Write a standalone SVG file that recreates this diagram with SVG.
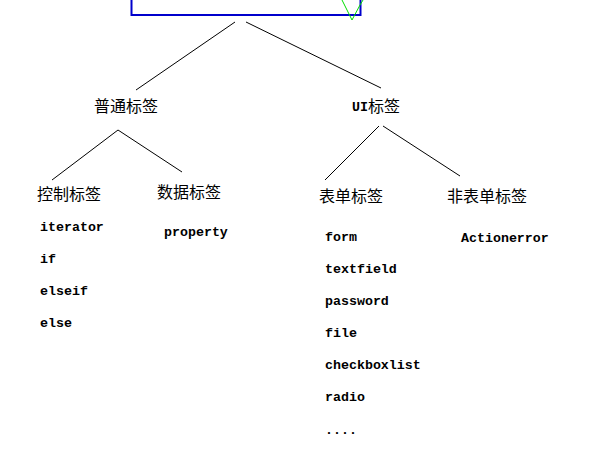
<svg xmlns="http://www.w3.org/2000/svg" width="615" height="463" viewBox="0 0 615 463">
<style>
.c{font-family:"Noto Sans CJK SC",sans-serif;font-size:16px;fill:#000}
.m{font-family:"Liberation Mono","Noto Sans CJK SC",monospace;font-size:13.3px;font-weight:bold;fill:#000}
line{stroke:#000;stroke-width:1}
</style>
<rect width="615" height="463" fill="#fff"/>
<g id="top"><rect x="131.5" y="-5" width="229" height="20" fill="none" stroke="#0000cc" stroke-width="2"/>
<polyline points="342,0 352,20 360,5 363,0" fill="none" stroke="#00dd00"/></g>
<g id="connectors">
<line x1="235" y1="22" x2="136" y2="90"/>
<line x1="246" y1="22" x2="381" y2="88"/>
<line x1="118" y1="130" x2="52" y2="180"/>
<line x1="118" y1="130" x2="182" y2="172"/>
<line x1="379" y1="126" x2="325" y2="180"/>
<line x1="383" y1="126" x2="460" y2="176"/>
</g>
<g id="n1"><text class="c" x="94" y="112">普通标签</text></g>
<g id="n2"><text class="m" x="352" y="111">UI</text><text class="c" x="368" y="112">标签</text></g>
<g id="n3"><text class="c" x="37" y="200">控制标签</text>
<text class="m" x="40" y="231">iterator</text><text class="m" x="40" y="263">if</text><text class="m" x="40" y="295">elseif</text><text class="m" x="40" y="327">else</text></g>
<g id="n4"><text class="c" x="157" y="198">数据标签</text><text class="m" x="164" y="236">property</text></g>
<g id="n5"><text class="c" x="319" y="202">表单标签</text>
<text class="m" x="325" y="241">form</text><text class="m" x="325" y="273">textfield</text><text class="m" x="325" y="305">password</text><text class="m" x="325" y="337">file</text><text class="m" x="325" y="369">checkboxlist</text><text class="m" x="325" y="401">radio</text><text class="m" x="325" y="434">....</text></g>
<g id="n6"><text class="c" x="447" y="202">非表单标签</text><text class="m" x="461" y="242">Actionerror</text></g>
</svg>
